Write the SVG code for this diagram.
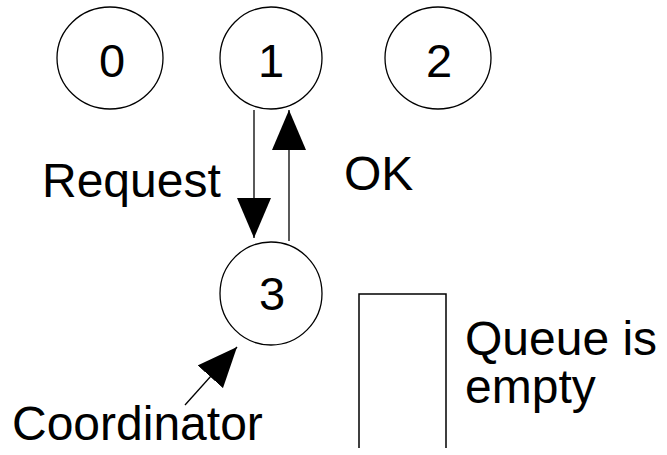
<svg xmlns="http://www.w3.org/2000/svg" width="667" height="455" viewBox="0 0 667 455">
<style>
.node ellipse{fill:none;stroke:#000;stroke-width:1.3}
text{font-family:"Liberation Sans",Arial,sans-serif;font-size:48px;fill:#000}
.num{text-anchor:middle;font-size:47px}
.conn line{stroke:#000;stroke-width:1.3}
</style>
<defs>
<marker id="ah" markerUnits="userSpaceOnUse" markerWidth="40" markerHeight="34" refX="40" refY="17" orient="auto">
<path d="M0,0 L40,17 L0,34 Z" fill="#000"/>
</marker>
</defs>
<rect width="667" height="455" fill="#fff"/>
<g id="node0" class="node"><ellipse cx="110" cy="58" rx="53" ry="51"/><text class="num" x="112" y="77">0</text></g>
<g id="node1" class="node"><ellipse cx="271" cy="58" rx="51" ry="51"/><text class="num" x="271" y="77">1</text></g>
<g id="node2" class="node"><ellipse cx="438" cy="58" rx="53" ry="51"/><text class="num" x="439" y="77">2</text></g>
<g id="node3" class="node"><ellipse cx="271" cy="293.5" rx="51" ry="51.5"/><text class="num" x="272" y="310">3</text></g>
<g id="queue"><path d="M359,448 V294 H446 V448" fill="none" stroke="#000" stroke-width="1.5"/></g>
<g id="connectors" class="conn">
<line x1="254" y1="110" x2="254" y2="238" marker-end="url(#ah)"/>
<line x1="289" y1="241" x2="289" y2="110" marker-end="url(#ah)"/>
<line x1="185" y1="405" x2="237" y2="347" marker-end="url(#ah)"/>
</g>
<g id="labels">
<text x="42" y="197">Request</text>
<text x="344" y="190">OK</text>
<text x="12" y="440">Coordinator</text>
<text x="465" y="355">Queue is</text>
<text x="465" y="403">empty</text>
</g>
</svg>
